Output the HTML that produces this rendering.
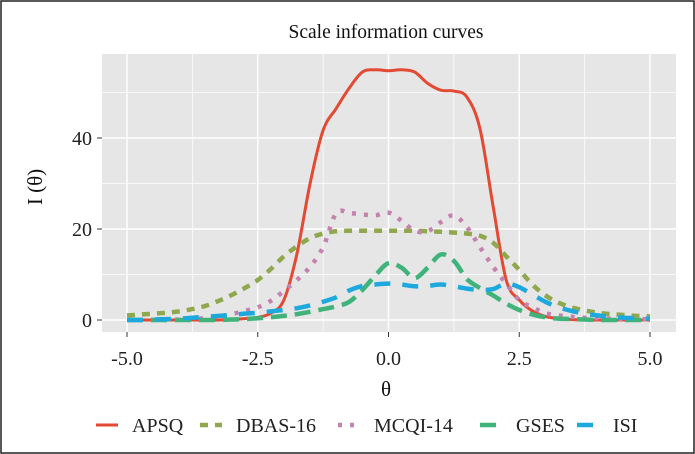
<!DOCTYPE html>
<html><head><meta charset="utf-8"><style>
body{margin:0;background:#fff;}
svg{display:block;font-family:"Liberation Serif",serif;}
</style></head><body>
<svg width="695" height="454" viewBox="0 0 695 454">
<rect x="1" y="1" width="693" height="452" fill="#fff" stroke="#222" stroke-width="1.5"/>
<text x="386" y="38" text-anchor="middle" font-size="19.5" fill="#111">Scale information curves</text>
<rect x="102" y="54" width="574" height="278" fill="#e6e6e6"/>
<g id="grid"></g>
<g id="series"></g>
<g id="axes"></g>
<text x="386" y="396" text-anchor="middle" font-size="21" fill="#111">θ</text>
<text transform="translate(42,187) rotate(-90)" text-anchor="middle" font-size="21" fill="#111">I (θ)</text>
<g id="legend"></g>
</svg>
<script>
const thetas=[-5,-4.75,-4.5,-4.25,-4,-3.75,-3.5,-3.25,-3,-2.75,-2.5,-2.25,-2,-1.75,-1.5,-1.25,-1,-0.75,-0.5,-0.25,0,0.25,0.5,0.75,1,1.25,1.5,1.75,2,2.25,2.5,2.75,3,3.25,3.5,3.75,4,4.25,4.5,4.75,5];
const apsq=[0,0,0,0,0,0,0,0,0.1,0.3,0.6,1.5,4.4,14.6,30,41.7,46.5,51,54.5,55,54.8,55,54.5,52,50.5,50.3,49,42,25,8.8,4.4,2,0.8,0.3,0.1,0,0,0,0,0,0];
const dbas=[1,1.2,1.4,1.6,1.9,2.4,3.1,4.2,5.5,7,8.8,11.2,14,16.2,18,19,19.5,19.6,19.6,19.6,19.6,19.6,19.6,19.5,19.4,19.2,19,18.5,17,14,11,7.8,5.4,3.8,2.8,2.1,1.6,1.3,1.1,0.9,0.8];
const mcqi=[0,0,0,0,0.1,0.2,0.4,0.8,1.3,2,2.8,4.2,6.4,8.8,11.7,16,23.5,23.5,23.2,23,23.6,21.8,19.6,19.5,21.5,23,20.4,16,11.7,8,4.4,2.8,1.5,1,0.7,0.5,0.4,0.3,0.2,0.2,0.2];
const gses=[0,0,0,0,0,0,0,0,0.1,0.2,0.4,0.6,0.9,1.3,1.8,2.4,3,4,6.6,9.8,12.5,11.5,9.2,11.5,14.4,13,9,7,5.4,3.6,2.2,1.2,0.6,0.3,0.2,0.1,0,0,0,0,0];
const isi=[0,0,0.1,0.2,0.3,0.5,0.7,0.9,1.1,1.4,1.6,1.9,2.2,2.6,3.2,4,5,6.5,7.5,7.8,8,7.8,7.4,7.5,7.8,7.4,6.9,6.6,6.8,8,7.2,5.6,4,2.8,2,1.4,1,0.7,0.5,0.4,0.3];
const seriesNames=["APSQ","DBAS-16","MCQI-14","GSES","ISI"];
const xTicks=[-5,-2.5,0,2.5,5];
const yTicks=[0,20,40];
const xTickLabels=["-5.0","-2.5","0.0","2.5","5.0"];
const yTickLabels=["0","20","40"];

const NS="http://www.w3.org/2000/svg";
const X=v=>388.5+v*52.3;
const Y=v=>320-v*4.55;
function mk(tag,attrs,parent){const e=document.createElementNS(NS,tag);for(const k in attrs)e.setAttribute(k,attrs[k]);parent.appendChild(e);return e;}
function smooth(pts){let d='M'+pts[0][0].toFixed(1)+','+pts[0][1].toFixed(1);
 for(let i=0;i<pts.length-1;i++){const p0=pts[Math.max(0,i-1)],p1=pts[i],p2=pts[i+1],p3=pts[Math.min(pts.length-1,i+2)];
  const c1=[p1[0]+(p2[0]-p0[0])/6,p1[1]+(p2[1]-p0[1])/6],c2=[p2[0]-(p3[0]-p1[0])/6,p2[1]-(p3[1]-p1[1])/6];
  d+=' C'+c1[0].toFixed(1)+','+c1[1].toFixed(1)+' '+c2[0].toFixed(1)+','+c2[1].toFixed(1)+' '+p2[0].toFixed(1)+','+p2[1].toFixed(1);}
 return d;}
const grid=document.getElementById('grid'),axes=document.getElementById('axes'),ser=document.getElementById('series'),leg=document.getElementById('legend');
[-3.75,-1.25,1.25,3.75].forEach(v=>{const l=mk('line',{x1:X(v),x2:X(v),y1:54,y2:332,stroke:'#fff','stroke-width':0.7},grid);

});
[10,30,50].forEach(v=>{const l=mk('line',{x1:102,x2:676,y1:Y(v),y2:Y(v),stroke:'#fff','stroke-width':0.7},grid);

});
xTicks.forEach((v,i)=>{const l=mk('line',{x1:X(v),x2:X(v),y1:54,y2:332,stroke:'#fff','stroke-width':1.4},grid);


const t=mk('line',{x1:X(v),x2:X(v),y1:332,y2:337,stroke:'#333','stroke-width':1},axes);


const tx=mk('text',{x:X(v),y:365,'text-anchor':'middle','font-size':20,fill:'#222'},axes);tx.textContent=xTickLabels[i];

});
yTicks.forEach((v,i)=>{const l=mk('line',{x1:102,x2:676,y1:Y(v),y2:Y(v),stroke:'#fff','stroke-width':1.4},grid);


const t=mk('line',{x1:97,x2:102,y1:Y(v),y2:Y(v),stroke:'#333','stroke-width':1},axes);


const tx=mk('text',{x:92,y:Y(v)+7,'text-anchor':'end','font-size':20,fill:'#222'},axes);tx.textContent=yTickLabels[i];

});
const styles=[{c:'#e24a33',w:3,d:''},{c:'#8fa84e',w:4.5,d:'8,7'},{c:'#c483ae',w:4.5,d:'4,8'},{c:'#3fb37a',w:4.5,d:'16,8'},{c:'#1ea9de',w:4.5,d:'16,12'}];
[apsq,dbas,mcqi,gses,isi].forEach((arr,si)=>{
 const d=smooth(arr.map((v,i)=>[X(thetas[i]),Y(v)]));
 const s=styles[si];
 const p=mk('path',{d:d,fill:'none',stroke:s.c,'stroke-width':s.w,'stroke-dasharray':s.d,'stroke-linejoin':'round'},ser);
 
 
});
const lx=[96,200,338,480,577];
seriesNames.forEach((n,i)=>{const s=styles[i];
 const l=mk('line',{x1:lx[i],x2:lx[i]+22,y1:425,y2:425,stroke:s.c,'stroke-width':s.w,'stroke-dasharray':s.d},leg);
 
 
 const t=mk('text',{x:lx[i]+36,y:432,'font-size':20,fill:'#222'},leg);t.textContent=n;
 
 
});
</script>
</body></html>
